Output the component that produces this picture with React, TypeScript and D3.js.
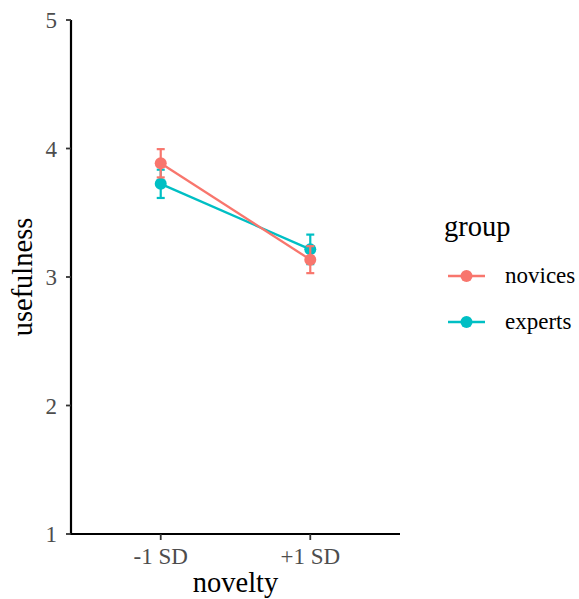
import * as d3 from 'd3';

const noveltyLevels = ['-1 SD', '+1 SD'];
const groups = ['novices', 'experts'];
const groupColors = ['#F8766D', '#00BFC4'];
const noviceMeans = [3.885, 3.135];
const noviceSE = [0.11, 0.105];
const expertMeans = [3.725, 3.215];
const expertSE = [0.11, 0.115];
const yTicks = [1, 2, 3, 4, 5];

const W = 579;
const H = 599;
const plot = { left: 71, right: 400, top: 20, bottom: 534 };
const font = 'Liberation Serif, Tinos, Times New Roman, DejaVu Serif, Noto Serif, serif';

const App = () => {
  const x = d3.scaleLinear().domain([0.4, 2.6]).range([plot.left, plot.right]);
  const y = d3.scaleLinear().domain([1, 5]).range([plot.bottom, plot.top]);

  const series = [
    { name: groups[0], color: groupColors[0], means: noviceMeans, se: noviceSE },
    { name: groups[1], color: groupColors[1], means: expertMeans, se: expertSE },
  ];

  const line = d3.line<number>()
    .x((_, i) => x(i + 1))
    .y((d) => y(d));

  // experts first so novices sit on top like the original
  const drawOrder = [series[1], series[0]];

  return (
    <svg width={W} height={H} style={{ position: 'absolute', left: 0, top: 0, background: '#fff', fontFamily: font }}>
      {drawOrder.map((s) => (
        <g key={s.name}>
          {s.means.map((m, i) => (
            <g key={i} stroke={s.color} strokeWidth={2.2}>
              <line x1={x(i + 1)} x2={x(i + 1)} y1={y(m - s.se[i])} y2={y(m + s.se[i])} />
              <line x1={x(i + 1) - 4} x2={x(i + 1) + 4} y1={y(m - s.se[i])} y2={y(m - s.se[i])} />
              <line x1={x(i + 1) - 4} x2={x(i + 1) + 4} y1={y(m + s.se[i])} y2={y(m + s.se[i])} />
            </g>
          ))}
          <path d={line(s.means) ?? ''} fill="none" stroke={s.color} strokeWidth={2.3} />
          {s.means.map((m, i) => (
            <circle key={i} cx={x(i + 1)} cy={y(m)} r={6} fill={s.color} />
          ))}
        </g>
      ))}

      {/* axes */}
      <line x1={plot.left} x2={plot.left} y1={plot.top} y2={plot.bottom + 1} stroke="#000" strokeWidth={2.2} />
      <line x1={plot.left - 1} x2={plot.right} y1={plot.bottom} y2={plot.bottom} stroke="#000" strokeWidth={2.2} />
      {yTicks.map((t) => (
        <g key={t}>
          <line x1={plot.left - 5} x2={plot.left} y1={y(t)} y2={y(t)} stroke="#333" strokeWidth={1.8} />
          <text x={plot.left - 14} y={y(t)} dy="0.35em" textAnchor="end" fontSize={23} fill="#4d4d4d">
            {t}
          </text>
        </g>
      ))}
      {noveltyLevels.map((lab, i) => (
        <g key={lab}>
          <line x1={x(i + 1)} x2={x(i + 1)} y1={plot.bottom} y2={plot.bottom + 6} stroke="#333" strokeWidth={1.8} />
          <text x={x(i + 1)} y={564} textAnchor="middle" fontSize={23} fill="#4d4d4d">
            {lab}
          </text>
        </g>
      ))}
      <text x={(plot.left + plot.right) / 2} y={592} textAnchor="middle" fontSize={28.5} fill="#000">
        novelty
      </text>
      <text
        transform={`translate(32, ${(plot.top + plot.bottom) / 2}) rotate(-90)`}
        textAnchor="middle"
        fontSize={28.5}
        fill="#000"
      >
        usefulness
      </text>

      {/* legend */}
      <text x={444} y={236} fontSize={28.5} fill="#000">group</text>
      {series.map((s, i) => {
        const ly = 276 + i * 46;
        return (
          <g key={s.name}>
            <line x1={448} x2={485} y1={ly} y2={ly} stroke={s.color} strokeWidth={2.3} />
            <circle cx={466.5} cy={ly} r={6} fill={s.color} />
            <text x={505} y={ly} dy="0.32em" fontSize={23} fill="#000">
              {s.name}
            </text>
          </g>
        );
      })}
    </svg>
  );
};

export default App;
